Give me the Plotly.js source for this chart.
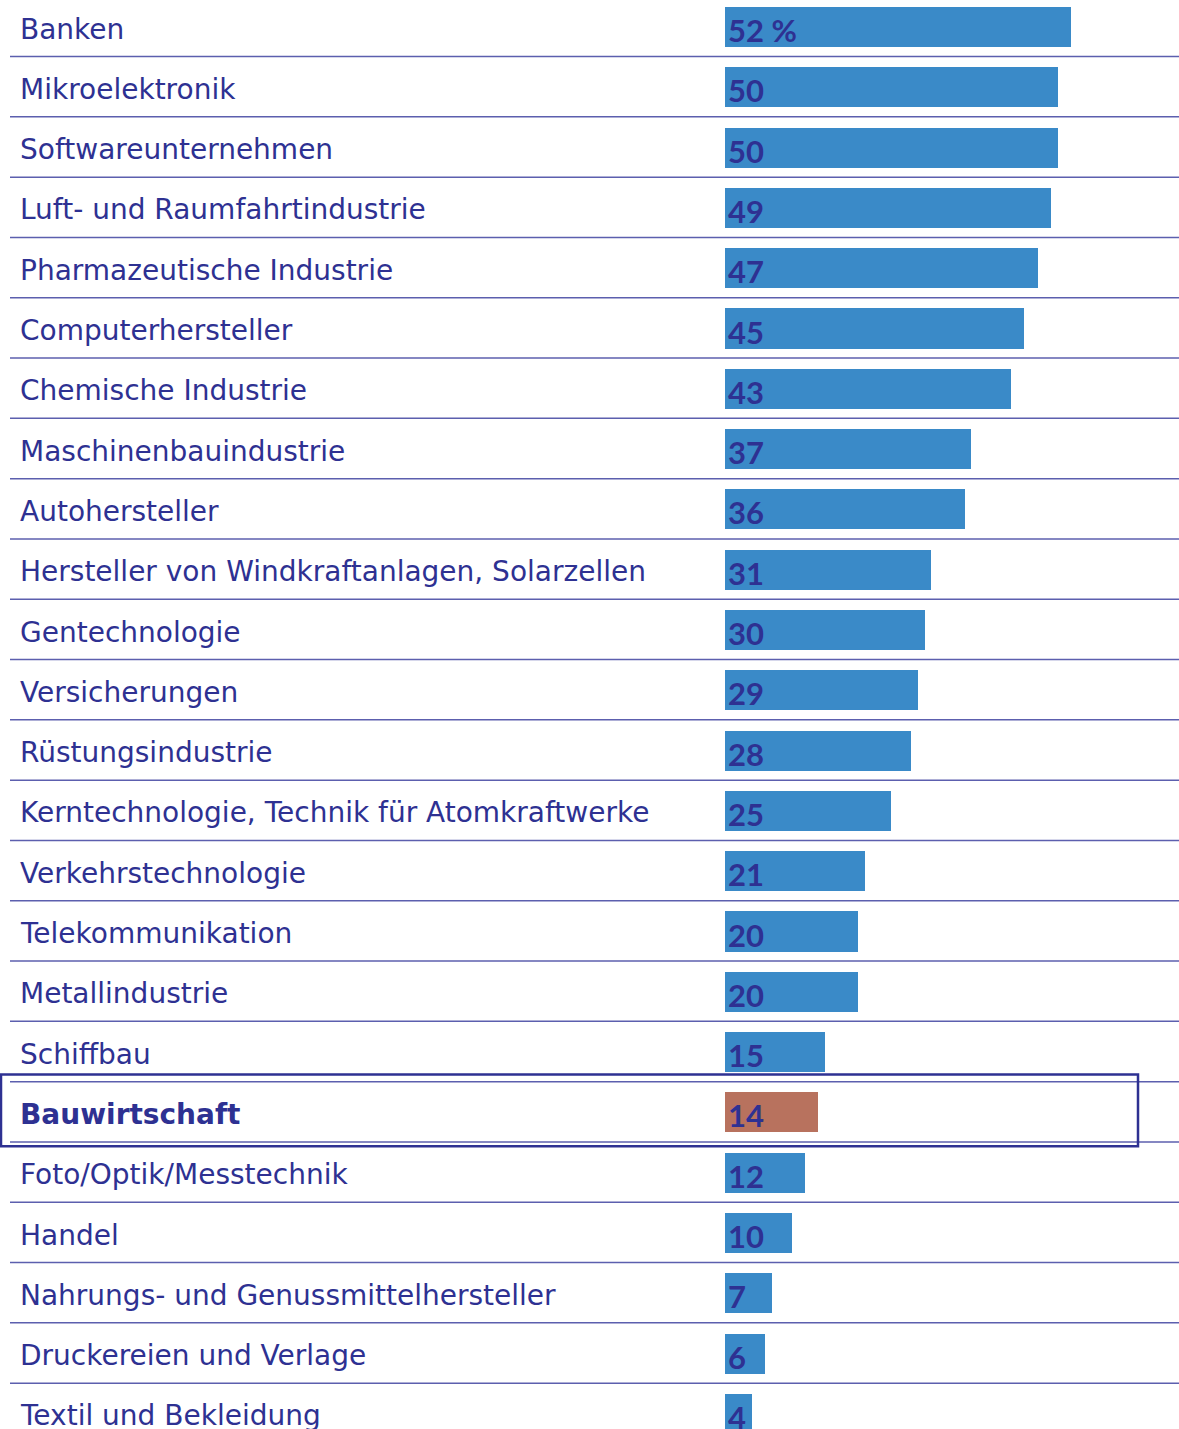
<!DOCTYPE html>
<html><head><meta charset="utf-8">
<script src="https://cdn.plot.ly/plotly-3.0.1.min.js"></script>
<style>html,body{margin:0;padding:0;background:#fff;}#chart{width:1179px;height:1429px;}</style>
</head><body><div id="chart"></div>
<script>
const categories = ["Banken","Mikroelektronik","Softwareunternehmen","Luft- und Raumfahrtindustrie","Pharmazeutische Industrie","Computerhersteller","Chemische Industrie","Maschinenbauindustrie","Autohersteller","Hersteller von Windkraftanlagen, Solarzellen","Gentechnologie","Versicherungen","Rüstungsindustrie","Kerntechnologie, Technik für Atomkraftwerke","Verkehrstechnologie","Telekommunikation","Metallindustrie","Schiffbau","Bauwirtschaft","Foto/Optik/Messtechnik","Handel","Nahrungs- und Genussmittelhersteller","Druckereien und Verlage","Textil und Bekleidung"];
const values = [52,50,50,49,47,45,43,37,36,31,30,29,28,25,21,20,20,15,14,12,10,7,6,4];
const valueLabels = ["52 %","50","50","49","47","45","43","37","36","31","30","29","28","25","21","20","20","15","14","12","10","7","6","4"];
const highlight = "Bauwirtschaft";

const W = 1179, H = 1429;
const x0px = 725, pxPerUnit = (1071-725)/52;
const rowPx = 60.3, firstCenter = 27;
const textColor = "#2e3192";
const barColor = "#3a8ac8", hiColor = "#b8725e";

const idx = categories.map((c,i)=>i);
const colors = categories.map(c => c===highlight ? hiColor : barColor);

const trace = {
  type: "bar", orientation: "h",
  x: values, y: idx, width: 0.665,
  marker: {color: colors, line: {width: 0}},
  hoverinfo: "none"
};

const annotations = [];
const shapes = [];
categories.forEach((c,i)=>{
  annotations.push({
    xref: "paper", yref: "y", x: 18/W, y: i, xanchor: "left", yanchor: "middle",
    yshift: -2, showarrow: false, text: c===highlight ? "<b>"+c+"</b>" : c,
    font: {family: "'DejaVu Sans', sans-serif", size: 28, color: textColor}
  });
  annotations.push({
    xref: "x", yref: "y", x: 0, y: i, xanchor: "left", yanchor: "middle",
    xshift: 1, yshift: -3, showarrow: false, text: "<b>"+valueLabels[i]+"</b>",
    font: {family: "Lato, 'Open Sans', sans-serif", size: 31, color: textColor}
  });
  if (i < categories.length-1) {
    shapes.push({type: "line", xref: "paper", yref: "y", x0: 10/W, x1: 1, y0: i+0.49, y1: i+0.49,
      line: {color: "#5c5fae", width: 1.5}});
  }
});
const hi = categories.indexOf(highlight);
shapes.push({type: "rect", xref: "paper", yref: "y", x0: 1/W, x1: 1138/W, y0: hi-0.63, y1: hi+0.56,
  line: {color: textColor, width: 2.5}, fillcolor: "rgba(0,0,0,0)"});

const layout = {
  width: W, height: H,
  margin: {l:0, r:0, t:0, b:0, pad:0},
  paper_bgcolor: "#fff", plot_bgcolor: "#fff",
  showlegend: false,
  xaxis: {visible: false, range: [-x0px/pxPerUnit, (W-x0px)/pxPerUnit], fixedrange: true},
  yaxis: {visible: false, range: [(H-firstCenter)/rowPx, -firstCenter/rowPx], fixedrange: true},
  annotations: annotations,
  shapes: shapes,
  bargap: 0
};
Plotly.newPlot("chart", [trace], layout, {displayModeBar: false, staticPlot: true});
</script>
</body></html>
